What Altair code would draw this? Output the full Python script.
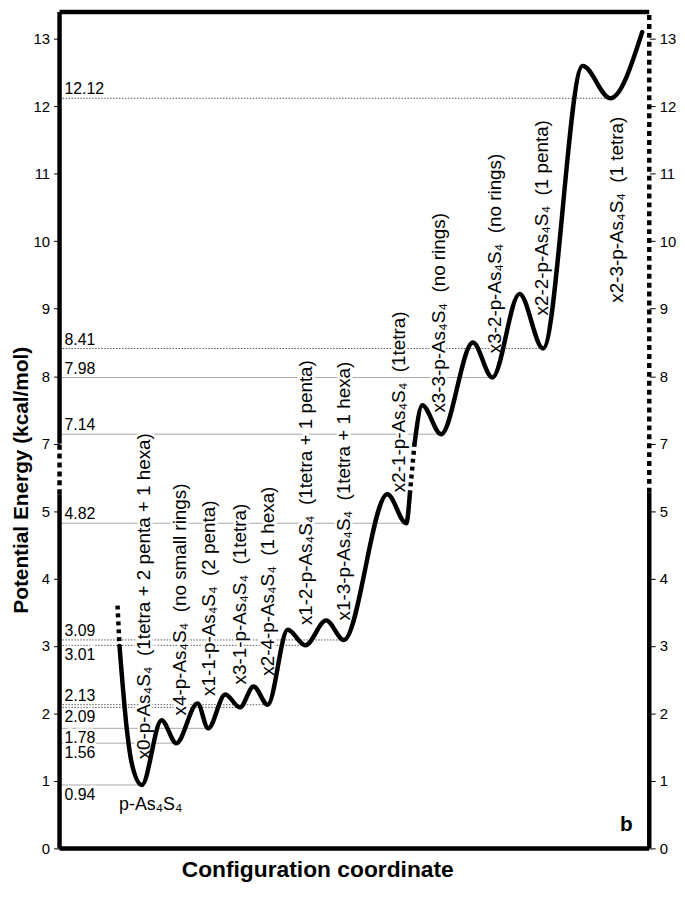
import altair as alt
import pandas as pd

# ---------------- data (energies in kcal/mol, configuration coordinate 0-100) ----------------
min_coord = [13.95, 19.8, 25.2, 30.6, 35.3, 41.7, 48.2, 58.8, 64.7, 73.4, 82.0, 93.4]
min_energy = [0.94, 1.56, 1.78, 2.09, 2.13, 3.01, 3.09, 4.82, 7.14, 7.98, 8.41, 12.12]
below_levels = [3.01, 2.09, 1.78, 1.56, 0.94]
dotted_levels = [12.12, 8.41, 3.09, 3.01, 2.13, 2.09]

# solid parts of the potential curve
curve1_coord = [10.17, 11.43, 12.27, 13.95, 17.3, 19.8, 23.4, 25.2, 28.1, 30.6, 32.9,
                35.3, 38.7, 41.7, 45.2, 48.2, 55.6, 58.8, 59.4]
curve1_energy = [3.0, 1.75, 1.25, 0.94, 1.90, 1.56, 2.15, 1.78, 2.28, 2.09, 2.40,
                 2.13, 3.24, 3.01, 3.38, 3.09, 5.25, 4.82, 5.25]
curve2_coord = [60.2, 61.5, 64.7, 70.1, 73.4, 78.0, 82.0, 88.7, 93.4, 98.8]
curve2_energy = [7.0, 7.57, 7.14, 8.50, 7.98, 9.22, 8.41, 12.60, 12.12, 13.10]
# dotted parts of the curve
stub_coord = [9.83, 10.17]
stub_energy = [3.6, 3.0]
break_coord = [59.4, 60.2]
break_energy = [5.25, 7.0]

S4 = "p-As\u2084S\u2084"
GAP = " \u00a0"
conf_labels = [
    "x0-" + S4 + GAP + "(1tetra + 2 penta + 1 hexa)",
    "x4-" + S4 + GAP + "(no small rings)",
    "x1-1-" + S4 + GAP + "(2 penta)",
    "x3-1-" + S4 + GAP + "(1tetra)",
    "x2-4-" + S4 + GAP + "(1 hexa)",
    "x1-2-" + S4 + GAP + "(1tetra + 1 penta)",
    "x1-3-" + S4 + GAP + "(1tetra + 1 hexa)",
    "x2-1-" + S4 + GAP + "(1tetra)",
    "x3-3-" + S4 + GAP + "(no rings)",
    "x3-2-" + S4 + GAP + "(no rings)",
    "x2-2-" + S4 + GAP + "(1 penta)",
    "x2-3-" + S4 + GAP + "(1 tetra)",
]
label_coord = [14.3, 20.5, 25.4, 30.6, 35.3, 41.8, 48.2, 57.6, 64.4, 73.8, 81.8, 94.5]
label_energy = [1.32, 1.97, 2.26, 2.43, 2.56, 3.31, 3.38, 5.32, 7.46, 8.34, 8.90, 9.09]

ground_label = ["p-As\u2084S\u2084"]
ground_coord = [10.1]
ground_energy = [0.65]
panel_label = ["b"]
panel_coord = [96.1]
panel_energy = [0.35]

tick_values = list(range(13))

# ---------------- layout ----------------
W, H = 595, 844
Y_TOP = 12.40          # display units at the top frame (axis break removes one unit)
E_TOP = Y_TOP + 1
FONT = "Liberation Sans"


def disp(f):
    return (f"datum.{f} <= 5.25 ? datum.{f} : (datum.{f} >= 7 ? datum.{f} - 1 : "
            f"5.25 + (datum.{f} - 5.25) * 0.75 / 1.75)")


xs = alt.Scale(domain=[0, 100], nice=False, zero=False)
ys = alt.Scale(domain=[0, Y_TOP], nice=False, zero=False)

x_axis = alt.Axis(title="Configuration coordinate", labels=False, ticks=False, domain=False,
                  grid=False, titleFontSize=23, titleFontWeight="bold", titleColor="black",
                  titleX=260, titleY=21, titleAlign="center", titleBaseline="middle",
                  titleFont=FONT)


def X():
    return alt.X("c:Q", scale=xs, axis=x_axis)


def Y(axis=None):
    return alt.Y("d:Q", scale=ys, axis=axis)


# horizontal energy levels
lev = pd.DataFrame({"c": [0.0] * len(min_energy), "c2": min_coord, "E": min_energy})
lev["dotted"] = lev["E"].isin(dotted_levels)
lev["lab"] = [f"{v:.2f}" for v in min_energy]
lev["below"] = lev["E"].isin(below_levels)

base_lev = alt.Chart(lev).transform_calculate(d=disp("E"))
hl_solid = base_lev.transform_filter("!datum.dotted").mark_rule(color="#a8a8a8", strokeWidth=1).encode(
    x=X(), x2="c2:Q", y=Y())
hl_dot = base_lev.transform_filter("datum.dotted").mark_rule(color="#555555", strokeWidth=1, strokeDash=[1.5, 1.5]).encode(
    x=X(), x2="c2:Q", y=Y())

val_above_kw = dict(align="left", baseline="bottom", dx=5, dy=-1, fontSize=16)
val_below_kw = dict(align="left", baseline="top", dx=5, dy=2, fontSize=16)
halo_kw = dict(fill="white", stroke="white", strokeWidth=5)

val_above_h = base_lev.transform_filter("!datum.below").mark_text(**val_above_kw, **halo_kw).encode(x=X(), y=Y(), text="lab:N")
val_below_h = base_lev.transform_filter("datum.below").mark_text(**val_below_kw, **halo_kw).encode(x=X(), y=Y(), text="lab:N")
val_above = base_lev.transform_filter("!datum.below").mark_text(**val_above_kw, color="black").encode(x=X(), y=Y(), text="lab:N")
val_below = base_lev.transform_filter("datum.below").mark_text(**val_below_kw, color="black").encode(x=X(), y=Y(), text="lab:N")

# rotated configuration labels
lab = pd.DataFrame({"c": label_coord, "E": label_energy, "t": conf_labels})
base_lab = alt.Chart(lab).transform_calculate(d=disp("E"))
rot_kw = dict(angle=270, align="left", baseline="middle", fontSize=19)
rot_h = base_lab.mark_text(**rot_kw, **halo_kw).encode(x=X(), y=Y(), text="t:N")
rot = base_lab.mark_text(**rot_kw, color="black").encode(x=X(), y=Y(), text="t:N")

# curve
cs = pd.DataFrame({
    "c": curve1_coord + curve2_coord,
    "E": curve1_energy + curve2_energy,
    "seg": ["a"] * len(curve1_coord) + ["b"] * len(curve2_coord),
})
cd = pd.DataFrame({
    "c": stub_coord + break_coord,
    "E": stub_energy + break_energy,
    "seg": ["a"] * len(stub_coord) + ["b"] * len(break_coord),
})
curve_solid = alt.Chart(cs).transform_calculate(d=disp("E")).mark_line(
    color="black", strokeWidth=4.5, interpolate="monotone", strokeCap="round").encode(
    x=X(), y=Y(), detail="seg:N")
curve_dot = alt.Chart(cd).transform_calculate(d=disp("E")).mark_line(
    color="black", strokeWidth=4.5, strokeDash=[4, 4]).encode(
    x=X(), y=Y(), detail="seg:N")

# frame with axis break
fs = pd.DataFrame({
    "c": [0, 0, 0, 0, 100],
    "c2": [100, 100, 0, 0, 100],
    "E": [0, E_TOP, 0, 7.0, 0],
    "E2": [0, E_TOP, 5.25, E_TOP, 5.3],
})
fd = pd.DataFrame({
    "c": [0, 100],
    "c2": [0, 100],
    "E": [5.25, 5.3],
    "E2": [7.0, E_TOP],
})

label_expr = "datum.value <= 5 ? '' + datum.value : '' + (datum.value + 1)"
common_axis = dict(values=tick_values, labelExpr=label_expr, domain=False, grid=False,
                   ticks=True, tickSize=6, tickColor="black", tickWidth=1,
                   labelFontSize=15, labelColor="black", labelPadding=4, labelFont=FONT)

left_axis = alt.Axis(orient="left", title="Potential Energy (kcal/mol)", titleFontSize=21,
                     titleFontWeight="bold", titleColor="black", titleAngle=270,
                     titleAlign="center", titleBaseline="middle", titleX=-38, titleY=472,
                     titleFont=FONT, **common_axis)
right_axis = alt.Axis(orient="right", title=None, **common_axis)

frame_solid = alt.Chart(fs).transform_calculate(d=disp("E"), d2=disp("E2")).mark_rule(
    color="black", strokeWidth=4.5).encode(
    x=X(), x2="c2:Q", y=Y(left_axis), y2="d2:Q")
frame_dot = alt.Chart(fd).transform_calculate(d=disp("E"), d2=disp("E2")).mark_rule(
    color="black", strokeWidth=4.5, strokeDash=[5, 4]).encode(
    x=X(), x2="c2:Q", y=Y(right_axis), y2="d2:Q")

# extra text
gdf = pd.DataFrame({"c": ground_coord, "E": ground_energy, "t": ground_label})
ground = alt.Chart(gdf).transform_calculate(d=disp("E")).mark_text(
    align="left", baseline="middle", fontSize=18, color="black").encode(x=X(), y=Y(), text="t:N")
pdf = pd.DataFrame({"c": panel_coord, "E": panel_energy, "t": panel_label})
panel = alt.Chart(pdf).transform_calculate(d=disp("E")).mark_text(
    align="center", baseline="middle", fontSize=21, fontWeight="bold", color="black").encode(
    x=X(), y=Y(), text="t:N")

chart = alt.layer(
    hl_solid, hl_dot, rot_h, val_above_h, val_below_h,
    curve_solid, curve_dot, frame_solid, frame_dot,
    rot, val_above, val_below, ground, panel,
).resolve_axis(y="independent").properties(
    width=W, height=H,
    autosize=alt.AutoSizeParams(type="none"),
    padding={"left": 52, "top": 0, "right": 28, "bottom": 34},
).configure(font=FONT).configure_view(stroke=None)

chart.save("out.html", embed_options={"renderer": "svg", "actions": False})
